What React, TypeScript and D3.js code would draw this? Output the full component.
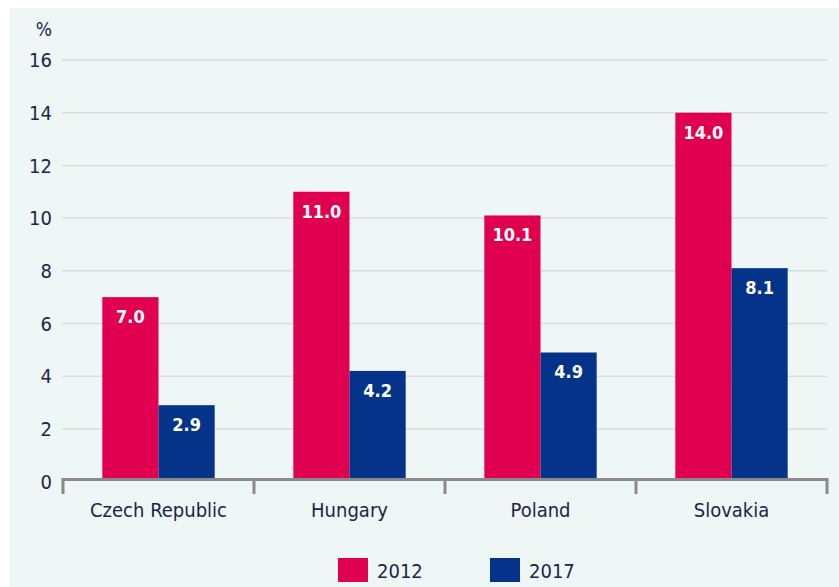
import React from "react";
import * as d3 from "d3";

const categories = ["Czech Republic", "Hungary", "Poland", "Slovakia"];
const seriesNames = ["2012", "2017"];
const values2012 = [7.0, 11.0, 10.1, 14.0];
const values2017 = [2.9, 4.2, 4.9, 8.1];
const yTicks = [0, 2, 4, 6, 8, 10, 12, 14, 16];
const colors = ["#e1004f", "#05338a"];

const W = 839;
const H = 587;
const FONT = "'DejaVu Sans Condensed', 'DejaVu Sans', sans-serif";
const TEXT = "#1c2549";

export default function App() {
  const x = d3.scaleBand<string>().domain(categories).range([63, 827]).paddingInner(0).paddingOuter(0);
  const xs = d3.scaleBand<string>().domain(seriesNames).range([0, x.bandwidth()]).paddingInner(0).paddingOuter(0.7);
  const y = d3.scaleLinear().domain([0, 16]).range([481.6, 60]);
  const series = [values2012, values2017];
  const axisY = 479.5;

  return (
    <svg width={W} height={H} style={{ position: "absolute", left: 0, top: 0 }} fontFamily={FONT}>
      <rect x={0} y={0} width={W} height={H} fill="#ffffff" />
      <rect x={9} y={8} width={W - 9} height={H - 8} fill="#eef6f6" />
      {yTicks.filter((t) => t > 0).map((t) => (
        <line key={"g" + t} x1={62} x2={827} y1={y(t)} y2={y(t)} stroke="#d9dddd" strokeWidth={1.5} />
      ))}
      {yTicks.map((t) => (
        <text key={"t" + t} x={52} y={y(t)} dy="0.36em" textAnchor="end" fontSize={20} fill={TEXT}>
          {t}
        </text>
      ))}
      <text x={52} y={36} textAnchor="end" fontSize={19} fill={TEXT}>%</text>
      {categories.map((c, i) =>
        series.map((vals, s) => {
          const bx = (x(c) as number) + (xs(seriesNames[s]) as number);
          const top = y(vals[i]);
          return (
            <g key={c + s}>
              <rect x={bx} y={top} width={xs.bandwidth()} height={axisY - 1.5 - top} fill={colors[s]} />
              <text x={bx + xs.bandwidth() / 2} y={top + 26} textAnchor="middle" fontSize={18} fontWeight="bold" fill="#ffffff">
                {vals[i].toFixed(1)}
              </text>
            </g>
          );
        })
      )}
      <line x1={61.5} x2={828.5} y1={axisY} y2={axisY} stroke="#8a8a8a" strokeWidth={3} />
      {[...categories.map((c) => x(c) as number), 827].map((bx, i) => (
        <line key={"k" + i} x1={bx} x2={bx} y1={axisY} y2={494} stroke="#8a8a8a" strokeWidth={3} />
      ))}
      {categories.map((c) => (
        <text key={"c" + c} x={(x(c) as number) + x.bandwidth() / 2} y={517} textAnchor="middle" fontSize={20} fill={TEXT}>
          {c}
        </text>
      ))}
      {seriesNames.map((s, i) => (
        <g key={"l" + s} transform={`translate(${338 + i * 152},558)`}>
          <rect x={0} y={0} width={30} height={24} fill={colors[i]} />
          <text x={39} y={20} fontSize={20} fill={TEXT}>{s}</text>
        </g>
      ))}
    </svg>
  );
}
